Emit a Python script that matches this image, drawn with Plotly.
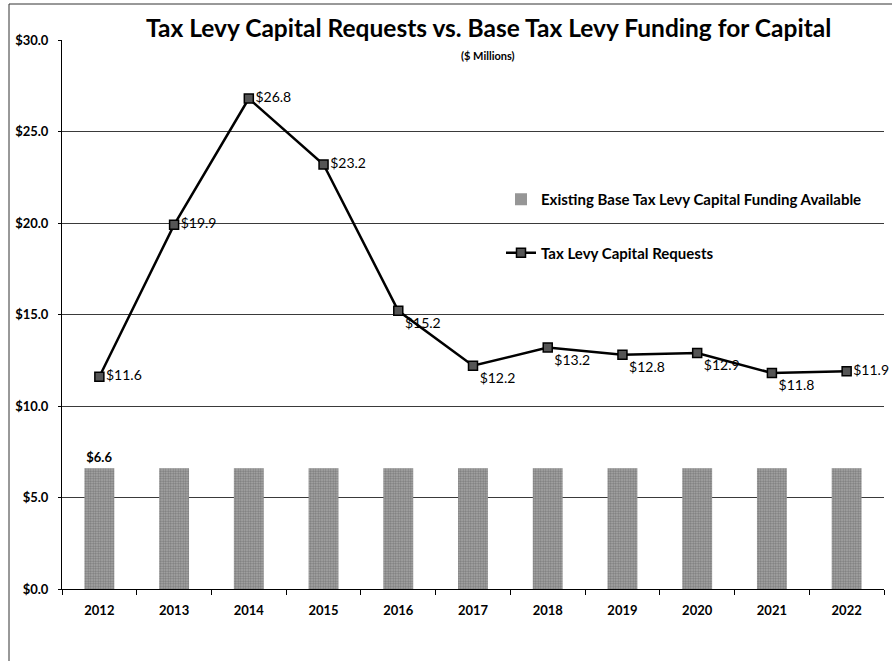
import plotly.graph_objects as go

years = ["2012", "2013", "2014", "2015", "2016", "2017", "2018", "2019", "2020", "2021", "2022"]
base_funding = [6.6, 6.6, 6.6, 6.6, 6.6, 6.6, 6.6, 6.6, 6.6, 6.6, 6.6]
requests = [11.6, 19.9, 26.8, 23.2, 15.2, 12.2, 13.2, 12.8, 12.9, 11.8, 11.9]
y_ticks = [0, 5, 10, 15, 20, 25, 30]

bar_name = "Existing Base Tax Levy Capital Funding Available"
line_name = "Tax Levy Capital Requests"
title_text = "Tax Levy Capital Requests vs. Base Tax Levy Funding for Capital"
subtitle_text = "($ Millions)"

FONT = "Lato"

req_pos = ["middle right"] * 4 + ["bottom right"] * 6 + ["middle right"]
bar_text = [f"${v:.1f}" if i == 0 else "" for i, v in enumerate(base_funding)]

fig = go.Figure()
fig.add_trace(go.Bar(
    x=years, y=base_funding, name=bar_name, width=0.4,
    text=bar_text, textposition="outside",
    textfont=dict(family=FONT, size=13, color="black", weight="bold"),
    marker=dict(color="#9a9a9a", line=dict(width=0),
                pattern=dict(shape=".", fgcolor="#4a4a4a", bgcolor="#aaaaaa", size=2.5, solidity=0.5)),
    cliponaxis=False, legendgroup="a",
))
fig.add_trace(go.Scatter(
    x=years, y=requests, name=line_name, mode="lines+markers+text",
    line=dict(color="black", width=2.5),
    marker=dict(symbol="square", size=9, color="#555", line=dict(color="black", width=1.5)),
    text=[f"${v:.1f}" for v in requests], textposition=req_pos,
    textfont=dict(family=FONT, size=14, color="black"),
    cliponaxis=False, legendgroup="b",
))

W, H = 892, 661
ml, mr, mt, mb = 62, 8, 40, 72
pw = W - ml - mr
ph = H - mt - mb

def px_x(p):
    return (p - ml) / pw

def px_y(p):
    return (H - mb - p) / ph

fig.update_layout(
    width=W, height=H,
    margin=dict(l=ml, r=mr, t=mt, b=mb),
    paper_bgcolor="white", plot_bgcolor="white",
    font=dict(family=FONT, color="black"),
    showlegend=True,
    legend=dict(x=px_x(501), y=px_y(183), xanchor="left", yanchor="top",
                bgcolor="rgba(0,0,0,0)", traceorder="grouped", tracegroupgap=31,
                font=dict(family=FONT, size=15, weight="bold")),
    bargap=0.6,
    xaxis=dict(type="category", range=[-0.5, 10.5], showgrid=False,
               showline=True, linecolor="black", linewidth=1,
               ticks="outside", tickson="boundaries", ticklen=5, tickcolor="black",
               ticklabelstandoff=9,
               tickfont=dict(family=FONT, size=13, weight="bold")),
    yaxis=dict(range=[0, 30], tickmode="array", tickvals=y_ticks,
               ticktext=[f"${v:.1f}" for v in y_ticks],
               showgrid=True, gridcolor="#3a3a3a", gridwidth=1,
               showline=True, linecolor="black", linewidth=1,
               ticks="outside", ticklen=3, tickcolor="black",
               ticklabelstandoff=7,
               zeroline=False,
               tickfont=dict(family=FONT, size=13, weight="bold")),
    shapes=[
        dict(type="rect", xref="paper", yref="paper",
             x0=px_x(107), x1=px_x(862), y0=px_y(50), y1=px_y(30),
             fillcolor="white", line=dict(width=0), layer="above"),
        dict(type="line", xref="paper", yref="paper",
             x0=px_x(9), x1=px_x(9), y0=px_y(4), y1=px_y(661),
             line=dict(color="#333", width=1)),
        dict(type="line", xref="paper", yref="paper",
             x0=px_x(9), x1=px_x(892), y0=px_y(4), y1=px_y(4),
             line=dict(color="#333", width=1)),
    ],
    annotations=[
        dict(text=title_text, xref="paper", yref="paper", x=px_x(488), y=px_y(28),
             xanchor="center", yanchor="middle", showarrow=False,
             font=dict(family=FONT, size=24.5, weight="bold", color="black")),
        dict(text=subtitle_text, xref="paper", yref="paper", x=px_x(488), y=px_y(55),
             xanchor="center", yanchor="middle", showarrow=False,
             font=dict(family=FONT, size=11, weight="bold", color="black")),
    ],
)

fig.write_html("out.html", config={"displayModeBar": False},
               post_script="document.body.style.margin='0';document.body.style.overflow='hidden';")
